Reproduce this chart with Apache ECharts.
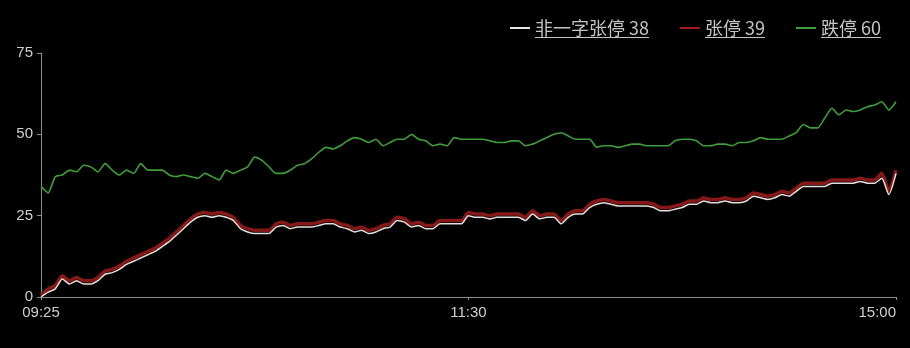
<!DOCTYPE html>
<html>
<head>
<meta charset="utf-8">
<script src="https://cdn.jsdelivr.net/npm/echarts@6/dist/echarts.min.js"></script>
<style>
html,body{margin:0;padding:0;background:#000;}
#chart{width:910px;height:348px;}
</style>
</head>
<body>
<div id="chart"></div>
<script>
// ---- data ----
const seriesNames = ['非一字张停', '张停', '跌停'];
const tickLabels = ['09:25', '11:30', '15:00'];
const yTicks = [0, 25, 50, 75];

// category axis: 09:25, then every 2 minutes 09:32..11:30, 13:02..15:00
const categories = [];
(function () {
  function fmt(m) { const h = Math.floor(m / 60), mm = m % 60; return (h < 10 ? '0' : '') + h + ':' + (mm < 10 ? '0' : '') + mm; }
  categories.push('09:25');
  for (let i = 1; i <= 60; i++) categories.push(fmt(9 * 60 + 30 + 2 * i));
  for (let i = 1; i <= 60; i++) categories.push(fmt(13 * 60 + 2 * i));
})();

const nonOneWordLimitUp = [
  0, 1.5, 2.5, 5.5, 4, 5, 4, 4, 5, 7, 7.5, 8.5, 10, 11, 12, 13, 14, 15.5, 17, 19, 21,
  23, 24.5, 25, 24.5, 25, 24.5, 23.5, 21, 20, 19.5, 19.5, 19.5, 21.5, 22, 21, 21.5, 21.5, 21.5, 22, 22.5,
  22.5, 21.5, 21, 20, 20.5, 19.5, 20, 21, 21.5, 23.5, 23, 21.5, 22, 21, 21, 22.5, 22.5, 22.5, 22.5, 25,
  24.5, 24.5, 24, 24.5, 24.5, 24.5, 24.5, 23.5, 25.5, 24, 24.5, 24.5, 22.5, 24.5, 25.5, 25.5, 27.5, 28.5, 29, 28.5,
  28, 28, 28, 28, 28, 27.5, 26.5, 26.5, 27, 27.5, 28.5, 28.5, 29.5, 29, 29, 29.5, 29, 29, 29.5, 31,
  30.5, 30, 30.5, 31.5, 31, 32.5, 34, 34, 34, 34, 35, 35, 35, 35, 35.5, 35, 35, 36.5, 31.5, 38
];
const limitUp = [
  0.5, 2.5, 3.5, 6.5, 5, 6, 5, 5, 6, 8, 8.5, 9.5, 11, 12, 13, 14, 15, 16.5, 18, 20, 22,
  24, 25.5, 26, 25.5, 26, 25.5, 24.5, 22, 21, 20.5, 20.5, 20.5, 22.5, 23, 22, 22.5, 22.5, 22.5, 23, 23.5,
  23.5, 22.5, 22, 21, 21.5, 20.5, 21, 22, 22.5, 24.5, 24, 22.5, 23, 22, 22, 23.5, 23.5, 23.5, 23.5, 26,
  25.5, 25.5, 25, 25.5, 25.5, 25.5, 25.5, 24.5, 26.5, 25, 25.5, 25.5, 23.5, 25.5, 26.5, 26.5, 28.5, 29.5, 30, 29.5,
  29, 29, 29, 29, 29, 28.5, 27.5, 27.5, 28, 28.5, 29.5, 29.5, 30.5, 30, 30, 30.5, 30, 30, 30.5, 32,
  31.5, 31, 31.5, 32.5, 32, 33.5, 35, 35, 35, 35, 36, 36, 36, 36, 36.5, 36, 36, 38, 32.5, 39
];
const limitDown = [
  34, 32, 37, 37.5, 39, 38.5, 40.5, 40, 38.5, 41, 39, 37.5, 39, 38, 41, 39, 39, 39, 37.5, 37, 37.5,
  37, 36.5, 38, 37, 36, 39, 38, 39, 40, 43, 42, 40, 38, 38, 39, 40.5, 41, 42.5, 44.5, 46,
  45.5, 46.5, 48, 49, 48.5, 47.5, 48.5, 46.5, 47.5, 48.5, 48.5, 50, 48.5, 48, 46.5, 47, 46.5, 49, 48.5, 48.5,
  48.5, 48.5, 48, 47.5, 47.5, 48, 48, 46.5, 47, 48, 49, 50, 50.5, 49.5, 48.5, 48.5, 48.5, 46, 46.5, 46.5,
  46, 46.5, 47, 47, 46.5, 46.5, 46.5, 46.5, 48, 48.5, 48.5, 48, 46.5, 46.5, 47, 47, 46.5, 47.5, 47.5, 48,
  49, 48.5, 48.5, 48.5, 49.5, 50.5, 53, 52, 52, 55, 58, 56, 57.5, 57, 57.5, 58.5, 59, 60, 57.5, 60
];

// ---- chart ----
const dataByName = {};
dataByName[seriesNames[0]] = nonOneWordLimitUp;
dataByName[seriesNames[1]] = limitUp;
dataByName[seriesNames[2]] = limitDown;
function legendLabel(name) {
  const arr = dataByName[name];
  return name + ' ' + Math.round(arr[arr.length - 1]);
}
const legendLabels = seriesNames.map(legendLabel);

const chart = echarts.init(document.getElementById('chart'), null, { renderer: 'canvas' });
const axisColor = '#8c8c8c';
const labelColor = '#cfcfcf';
const legendColor = '#c4c4c4';
const option = {
  backgroundColor: '#000',
  animation: false,
  grid: { left: 41, right: 14, top: 53, bottom: 51, containLabel: false },
  legend: {
    right: 24,
    top: 14,
    itemGap: 31,
    itemWidth: 20,
    itemHeight: 2,
    icon: 'rect',
    textStyle: { color: legendColor, fontSize: 18, fontFamily: 'Noto Sans CJK SC' },
    formatter: legendLabel,
    data: seriesNames
  },
  xAxis: {
    type: 'category',
    data: categories,
    boundaryGap: false,
    axisLine: { lineStyle: { color: axisColor, width: 1 } },
    axisTick: {
      length: 3,
      lineStyle: { color: axisColor },
      interval: function (idx, val) { return tickLabels.indexOf(val) >= 0; }
    },
    axisLabel: {
      color: labelColor,
      fontSize: 15,
      fontFamily: 'Liberation Sans',
      margin: 8,
      alignMaxLabel: 'right',
      interval: function (idx, val) { return tickLabels.indexOf(val) >= 0; }
    },
    splitLine: { show: false }
  },
  yAxis: {
    type: 'value',
    min: yTicks[0],
    max: yTicks[yTicks.length - 1],
    interval: yTicks[1] - yTicks[0],
    axisLine: { show: true, lineStyle: { color: axisColor, width: 1 } },
    axisTick: { show: true, length: 4, lineStyle: { color: axisColor } },
    axisLabel: { color: labelColor, fontSize: 15, fontFamily: 'Liberation Sans', margin: 8 },
    splitLine: { show: false }
  },
  series: [
    {
      name: seriesNames[0], type: 'line', data: nonOneWordLimitUp, symbol: 'none', smooth: 0.2, z: 4,
      itemStyle: { color: '#e6e6e6' },
      lineStyle: { color: '#e6dede', width: 1.5 }
    },
    {
      name: seriesNames[1], type: 'line', data: limitUp, symbol: 'none', smooth: 0.2, z: 3,
      itemStyle: { color: '#a11d1d' },
      lineStyle: { color: '#861818', width: 3.5 }
    },
    {
      name: seriesNames[2], type: 'line', data: limitDown, symbol: 'none', smooth: 0.2, z: 3,
      itemStyle: { color: '#3f9e3a' },
      lineStyle: { color: '#3f9e3a', width: 1.6 }
    }
  ]
};
chart.setOption(option);

// underline legend texts (as in the reference)
let underlined = false;
function addUnderlines() {
  if (underlined) return;
  const zr = chart.getZr();
  if (!zr || !zr.storage) return;
  const list = zr.storage.getDisplayList(true);
  const done = {};
  list.forEach(function (el) {
    const t = el.style && el.style.text;
    if (typeof t !== 'string' || legendLabels.indexOf(t) < 0 || done[t]) return;
    const r = el.getBoundingRect().clone();
    const m = el.getComputedTransform ? el.getComputedTransform() : el.transform;
    if (m) r.applyTransform(m);
    done[t] = true;
    const y = Math.round(r.y + r.height) + 0.5;
    zr.add(new echarts.graphic.Line({
      shape: { x1: r.x, y1: y, x2: r.x + r.width, y2: y },
      style: { stroke: legendColor, lineWidth: 1 },
      z: 100
    }));
  });
  underlined = Object.keys(done).length > 0;
}
addUnderlines();
chart.on('finished', addUnderlines);
</script>
</body>
</html>
